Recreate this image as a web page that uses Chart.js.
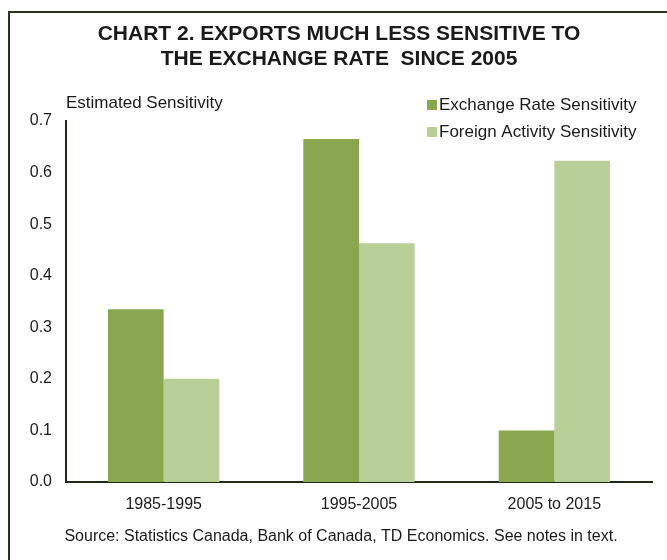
<!DOCTYPE html>
<html>
<head>
<meta charset="utf-8">
<script src="https://cdn.jsdelivr.net/npm/chart.js@4"></script>
<style>
  html, body { margin: 0; padding: 0; background: #fff; }
  #wrap { width: 667px; height: 560px; position: relative; }
</style>
</head>
<body>
<div id="wrap"><canvas id="exportsChart" width="667" height="560"></canvas></div>
<script>
const periods = ['1985-1995', '1995-2005', '2005 to 2015'];
const exchangeRate = [0.335, 0.665, 0.1];
const foreignActivity = [0.2, 0.463, 0.623];
const seriesNames = ['Exchange Rate Sensitivity', 'Foreign Activity Sensitivity'];
const titleLines = ['CHART 2. EXPORTS MUCH LESS SENSITIVE TO', 'THE EXCHANGE RATE  SINCE 2005'];
const axisCaption = 'Estimated Sensitivity';
const sourceNote = 'Source: Statistics Canada, Bank of Canada, TD Economics. See notes in text.';

const fontFamily = '"Liberation Sans", Arial, sans-serif';
const textColor = '#1a1a1a';
const darkGreen = '#8aa64f';
const lightGreen = '#b9cf98';

// frame, title, caption, legend and source line
const decorations = {
    id: 'decorations',
    beforeDraw(chart) {
        const ctx = chart.ctx;
        ctx.save();
        ctx.strokeStyle = '#2a3520';
        ctx.lineWidth = 2;
        ctx.beginPath();
        ctx.moveTo(667, 12);
        ctx.lineTo(9, 12);
        ctx.lineTo(9, 560);
        ctx.stroke();
        ctx.restore();
    },
    afterDraw(chart) {
        const ctx = chart.ctx;
        ctx.save();
        ctx.fillStyle = textColor;
        ctx.textBaseline = 'middle';

        ctx.font = 'bold 21px ' + fontFamily;
        ctx.textAlign = 'center';
        ctx.fillText(titleLines[0], 339, 34);
        ctx.fillText(titleLines[1], 339, 59);

        ctx.font = '17px ' + fontFamily;
        ctx.textAlign = 'left';
        ctx.fillText(axisCaption, 66, 103);

        const colors = [darkGreen, lightGreen];
        seriesNames.forEach((name, i) => {
            const y = 105 + i * 27;
            ctx.fillStyle = colors[i];
            ctx.fillRect(427, y - 5, 10, 10);
            ctx.fillStyle = textColor;
            ctx.fillText(name, 439, y);
        });

        ctx.font = '16px ' + fontFamily;
        ctx.textAlign = 'center';
        ctx.fillText(sourceNote, 341, 537);
        ctx.restore();
    }
};

new Chart(document.getElementById('exportsChart'), {
    type: 'bar',
    data: {
        labels: periods,
        datasets: [
            {
                label: seriesNames[0],
                data: exchangeRate,
                backgroundColor: darkGreen,
                borderWidth: 0,
                categoryPercentage: 0.57,
                barPercentage: 1
            },
            {
                label: seriesNames[1],
                data: foreignActivity,
                backgroundColor: lightGreen,
                borderWidth: 0,
                categoryPercentage: 0.57,
                barPercentage: 1
            }
        ]
    },
    options: {
        responsive: false,
        animation: false,
        layout: {
            padding: { left: 0, top: 121, right: 15, bottom: 48 }
        },
        plugins: {
            legend: { display: false },
            title: { display: false },
            tooltip: { enabled: false }
        },
        scales: {
            x: {
                grid: { display: false, drawTicks: false },
                border: { display: true, color: '#1f2a14', width: 2 },
                ticks: {
                    color: textColor,
                    padding: 13,
                    font: { family: fontFamily, size: 16 }
                },
                afterFit(scale) { scale.height = 30; }
            },
            y: {
                min: 0,
                max: 0.7,
                grid: { display: false, drawTicks: false },
                border: { display: true, color: '#1f2a14', width: 2 },
                ticks: {
                    stepSize: 0.1,
                    color: textColor,
                    padding: 14,
                    font: { family: fontFamily, size: 16 },
                    callback: (v) => v.toFixed(1)
                },
                afterFit(scale) { scale.width = 66; }
            }
        }
    },
    plugins: [decorations]
});
</script>
</body>
</html>
